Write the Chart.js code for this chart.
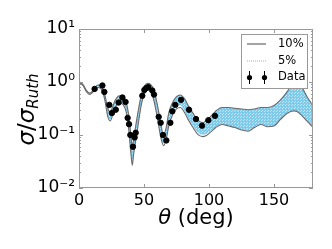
<!DOCTYPE html>
<html>
<head>
<meta charset="utf-8">
<script src="https://cdn.jsdelivr.net/npm/chart.js@4.4.1/dist/chart.umd.min.js"></script>
<style>
html, body { margin: 0; padding: 0; background: #fff; }
#wrap { width: 332px; height: 249px; }
</style>
</head>
<body>
<div id="wrap"><canvas id="myChart" width="332" height="249"></canvas></div>
<script>
// angle grid for the calculated bands (deg)
var theta = [0, 3, 6, 8, 10, 13, 15, 18, 20, 22, 24, 26, 28, 31, 34, 36, 38, 40, 41, 42,
    44, 46, 48, 50, 53, 55, 57, 59, 61, 63, 65, 67, 69, 72, 75, 78, 81, 84, 88, 91,
    95, 98, 101, 105, 110, 115, 120, 125, 130, 135, 140, 145, 150, 155, 160, 165, 168, 172, 176, 180];

// 10% band edges
var hi10 = [1.02, 0.9, 0.68, 0.62, 0.66, 0.83, 0.88, 0.79, 0.56, 0.33, 0.27, 0.35, 0.46, 0.55, 0.53, 0.43, 0.26, 0.095, 0.058, 0.085,
    0.17, 0.33, 0.58, 0.80, 0.94, 0.90, 0.76, 0.52, 0.30, 0.155, 0.10, 0.135, 0.26, 0.41, 0.53, 0.57, 0.49, 0.36, 0.25, 0.195,
    0.17, 0.19, 0.22, 0.28, 0.33, 0.33, 0.32, 0.31, 0.30, 0.31, 0.33, 0.33, 0.36, 0.46, 0.65, 0.95, 0.98, 0.75, 0.5, 0.36];
var lo10 = [0.98, 0.86, 0.64, 0.58, 0.62, 0.75, 0.79, 0.67, 0.44, 0.23, 0.185, 0.24, 0.33, 0.41, 0.37, 0.29, 0.145, 0.043, 0.027, 0.043,
    0.088, 0.19, 0.38, 0.57, 0.71, 0.67, 0.51, 0.31, 0.165, 0.088, 0.063, 0.082, 0.145, 0.24, 0.31, 0.33, 0.27, 0.195, 0.135, 0.105,
    0.093, 0.098, 0.112, 0.137, 0.158, 0.148, 0.138, 0.124, 0.118, 0.138, 0.158, 0.143, 0.148, 0.197, 0.255, 0.285, 0.275, 0.225, 0.177, 0.138];

// 5% band edges
var hi5 = [1.01, 0.89, 0.67, 0.61, 0.65, 0.82, 0.87, 0.77, 0.54, 0.32, 0.26, 0.34, 0.45, 0.54, 0.51, 0.41, 0.24, 0.085, 0.052, 0.078,
    0.16, 0.32, 0.56, 0.78, 0.92, 0.88, 0.74, 0.50, 0.29, 0.145, 0.095, 0.13, 0.25, 0.40, 0.52, 0.56, 0.48, 0.35, 0.24, 0.19,
    0.167, 0.187, 0.217, 0.275, 0.325, 0.325, 0.315, 0.305, 0.295, 0.305, 0.325, 0.325, 0.355, 0.455, 0.64, 0.94, 0.97, 0.74, 0.49, 0.355];
var lo5 = [0.99, 0.87, 0.65, 0.59, 0.63, 0.77, 0.81, 0.70, 0.47, 0.25, 0.20, 0.26, 0.35, 0.43, 0.40, 0.31, 0.16, 0.05, 0.033, 0.05,
    0.10, 0.21, 0.41, 0.60, 0.74, 0.70, 0.54, 0.34, 0.18, 0.097, 0.07, 0.092, 0.16, 0.27, 0.35, 0.37, 0.30, 0.215, 0.15, 0.116,
    0.103, 0.107, 0.12, 0.143, 0.162, 0.151, 0.141, 0.127, 0.121, 0.141, 0.161, 0.146, 0.151, 0.2, 0.26, 0.29, 0.28, 0.23, 0.18, 0.141];

// measured points
var dataTheta = [12, 18, 19.5, 23.3, 25.3, 28.3, 30.5, 33.4, 35.8, 37.4, 38.5, 39.5, 41.5, 42.8, 43.6,
    48.7, 50.3, 51.5, 53.3, 56.4, 57.7, 61.3, 62.8, 64.6, 67.2, 70.3, 71.8, 74.1, 78.5, 84.6, 90, 94.6, 99.5, 104.6];
var dataSigma = [0.74, 0.86, 0.65, 0.37, 0.26, 0.30, 0.41, 0.51, 0.42, 0.21, 0.16, 0.10, 0.06, 0.09, 0.11,
    0.55, 0.71, 0.76, 0.80, 0.69, 0.58, 0.22, 0.17, 0.10, 0.079, 0.17, 0.28, 0.37, 0.46, 0.30, 0.20, 0.15, 0.19, 0.23];

var xTicks = [0, 50, 100, 150];
var yDecades = [0.01, 0.1, 1, 10];
var yTickLabels = ['10\u207B\u00B2', '10\u207B\u00B9', '10\u2070', '10\u00B9'];
var legendLabels = ['10%', '5%', 'Data'];

function pts(xs, ys) {
    return xs.map(function (x, i) { return { x: x, y: ys[i] }; });
}

// dotted light-blue fill like the hatched band
var pc = document.createElement('canvas');
pc.width = 3; pc.height = 3;
var pctx = pc.getContext('2d');
pctx.fillStyle = 'rgb(125,202,234)';
pctx.fillRect(0, 0, 3, 3);
pctx.fillStyle = 'rgba(255,255,255,0.55)';
pctx.fillRect(0, 0, 1, 1);
pctx.fillRect(1, 2, 1, 1);
var bluePattern = pctx.createPattern(pc, 'repeat');

var font = '"DejaVu Sans", sans-serif';

var extras = {
    id: 'extras',
    afterDraw: function (chart) {
        var c = chart.ctx, a = chart.chartArea;
        var xs = chart.scales.x, ys = chart.scales.y;
        c.save();
        // frame
        c.strokeStyle = '#999';
        c.lineWidth = 1;
        c.strokeRect(a.left + 0.5, a.top + 0.5, a.right - a.left - 1, a.bottom - a.top - 1);
        // inward ticks
        c.beginPath();
        xTicks.forEach(function (v) {
            var px = Math.round(xs.getPixelForValue(v)) + 0.5;
            c.moveTo(px, a.bottom); c.lineTo(px, a.bottom - 4);
            c.moveTo(px, a.top); c.lineTo(px, a.top + 4);
        });
        for (var d = 0; d < 3; d++) {
            for (var k = 1; k < 10; k++) {
                var py = Math.round(ys.getPixelForValue(yDecades[d] * k)) + 0.5;
                var len = k === 1 ? 4 : 2;
                c.moveTo(a.left, py); c.lineTo(a.left + len, py);
                c.moveTo(a.right, py); c.lineTo(a.right - len, py);
            }
        }
        c.stroke();

        // legend box
        c.fillStyle = '#fff';
        c.fillRect(241, 34, 66, 54);
        c.strokeStyle = '#999';
        c.strokeRect(241.5, 34.5, 66, 54);
        c.lineWidth = 1.2;
        c.strokeStyle = '#666';
        c.beginPath(); c.moveTo(247, 44); c.lineTo(266, 44); c.stroke();
        c.lineWidth = 1;
        c.strokeStyle = 'rgb(110,195,235)';
        c.setLineDash([1, 1]);
        c.beginPath(); c.moveTo(247, 61); c.lineTo(266, 61); c.stroke();
        c.setLineDash([]);
        c.strokeStyle = '#000';
        c.fillStyle = '#000';
        [249.5, 264.5].forEach(function (px) {
            c.beginPath(); c.moveTo(px, 71); c.lineTo(px, 84); c.stroke();
            c.beginPath(); c.arc(px, 77.5, 2.6, 0, Math.PI * 2); c.fill();
        });
        c.font = '11.5px ' + font;
        c.textBaseline = 'middle';
        c.textAlign = 'left';
        c.fillText(legendLabels[0], 278, 44.5);
        c.fillText(legendLabels[1], 278, 61);
        c.fillText(legendLabels[2], 278, 77.5);

        // x title
        c.textBaseline = 'middle';
        var f1 = 'italic 21px ' + font, f2 = '21px ' + font;
        c.font = f1; var w1 = c.measureText('\u03B8').width;
        c.font = f2; var w2 = c.measureText(' (deg)').width;
        var x0 = (a.left + a.right) / 2 - (w1 + w2) / 2;
        c.font = f1; c.fillText('\u03B8', x0, 219);
        c.font = f2; c.fillText(' (deg)', x0 + w1, 219);

        // y title
        c.translate(28, (a.top + a.bottom) / 2 + 1);
        c.rotate(-Math.PI / 2);
        var parts = [
            ['\u03C3', 'italic 23px ' + font, 0],
            ['/', '23px ' + font, 0],
            ['\u03C3', 'italic 23px ' + font, 0],
            ['Ruth', 'italic 15px ' + font, 6]
        ];
        var tot = 0;
        parts.forEach(function (p) { c.font = p[1]; p.push(c.measureText(p[0]).width); tot += p[3]; });
        var cx = -tot / 2;
        parts.forEach(function (p) {
            c.font = p[1];
            c.fillText(p[0], cx, p[2]);
            cx += p[3];
        });
        c.restore();
    }
};

var ctx = document.getElementById('myChart').getContext('2d');

var myChart = new Chart(ctx, {
    type: 'line',
    data: {
        datasets: [{
            label: 'Data',
            type: 'scatter',
            data: pts(dataTheta, dataSigma),
            backgroundColor: '#000',
            borderColor: '#000',
            pointRadius: 2.7,
            pointHoverRadius: 2.7,
            order: 0
        }, {
            label: '10% hi',
            data: pts(theta, hi10),
            borderColor: '#6a6a6a',
            borderWidth: 1.1,
            pointRadius: 0,
            fill: false,
            cubicInterpolationMode: 'monotone',
            order: 1
        }, {
            label: '10% lo',
            data: pts(theta, lo10),
            borderColor: '#6a6a6a',
            borderWidth: 1.1,
            pointRadius: 0,
            fill: false,
            cubicInterpolationMode: 'monotone',
            order: 1
        }, {
            label: '5% hi',
            data: pts(theta, hi5),
            borderColor: 'rgb(110,195,235)',
            borderWidth: 1,
            borderDash: [1, 1],
            pointRadius: 0,
            fill: false,
            cubicInterpolationMode: 'monotone',
            order: 2
        }, {
            label: '5% lo',
            data: pts(theta, lo5),
            borderColor: 'rgb(110,195,235)',
            borderWidth: 1,
            borderDash: [1, 1],
            pointRadius: 0,
            backgroundColor: bluePattern,
            fill: '-1',
            cubicInterpolationMode: 'monotone',
            order: 2
        }]
    },
    options: {
        responsive: false,
        animation: false,
        devicePixelRatio: 1,
        layout: { padding: { left: 0, top: 29, right: 19, bottom: 0 } },
        plugins: {
            legend: { display: false },
            tooltip: { enabled: false }
        },
        scales: {
            x: {
                type: 'linear',
                min: 0,
                max: 180,
                grid: { display: false, drawTicks: false },
                border: { display: false },
                afterFit: function (scale) { scale.height = 61; },
                afterBuildTicks: function (scale) {
                    scale.ticks = xTicks.map(function (v) { return { value: v }; });
                },
                ticks: {
                    autoSkip: false,
                    maxRotation: 0,
                    padding: 3,
                    color: '#000',
                    font: { family: font, size: 16 }
                }
            },
            y: {
                type: 'logarithmic',
                min: 0.01,
                max: 10,
                grid: { display: false, drawTicks: false },
                border: { display: false },
                afterFit: function (scale) { scale.width = 79; },
                ticks: {
                    autoSkip: false,
                    padding: 4,
                    color: '#000',
                    font: { family: font, size: 17 },
                    callback: function (v) {
                        for (var i = 0; i < yDecades.length; i++) {
                            if (Math.abs(v - yDecades[i]) < yDecades[i] * 1e-6) return yTickLabels[i];
                        }
                        return '';
                    }
                }
            }
        }
    },
    plugins: [extras]
});
</script>
</body>
</html>
